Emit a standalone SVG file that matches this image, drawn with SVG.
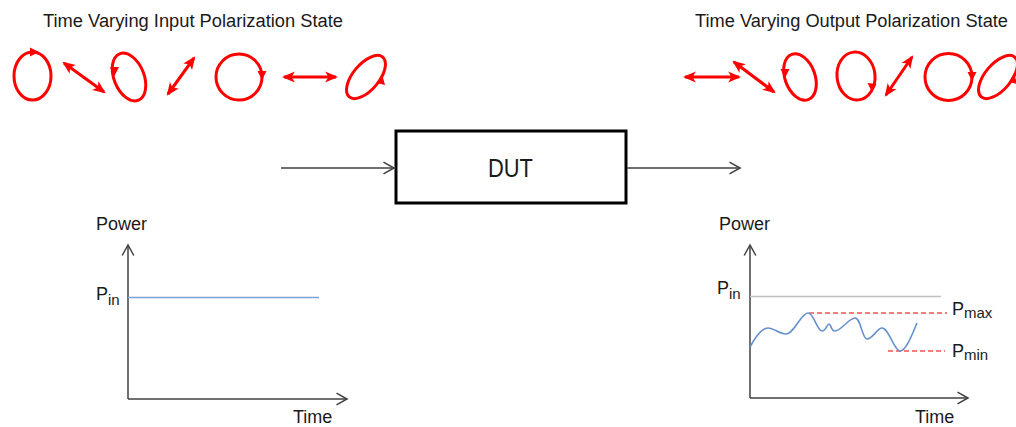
<svg xmlns="http://www.w3.org/2000/svg" width="1016" height="427" viewBox="0 0 1016 427">
  <style>
    .lbl { font-family: "Liberation Sans", Arial, sans-serif; fill: #1a1a1a; }
    .pol { fill: none; stroke: #ff0000; stroke-width: 3; }
    .lin { fill: none; stroke: #ff0000; stroke-width: 3; marker-start: url(#redTip); marker-end: url(#redTip); }
    .tip { fill: #ff0000; }
    .axis { fill: none; stroke: #404040; stroke-width: 1.5; marker-end: url(#openTip); }
    .flow { fill: none; stroke: #404040; stroke-width: 1.3; marker-end: url(#openTip); }
    .dash { fill: none; stroke: #ff5050; stroke-width: 1.6; stroke-dasharray: 5 3; }
  </style>
  <defs>
    <marker id="redTip" markerUnits="userSpaceOnUse" markerWidth="13" markerHeight="13" refX="10" refY="5" orient="auto-start-reverse" viewBox="0 0 12 10">
      <path d="M0,0 L12,5 L0,10 L3,5 Z" fill="#ff0000"/>
    </marker>
    <marker id="openTip" markerUnits="userSpaceOnUse" markerWidth="14" markerHeight="14" refX="10" refY="6" orient="auto" viewBox="0 0 12 12">
      <path d="M1,1 L10,6 L1,11" fill="none" stroke="#404040" stroke-width="1.3"/>
    </marker>
  </defs>

  <rect width="1016" height="427" fill="#ffffff"/>

  <!-- titles -->
  <text class="lbl" x="43" y="27" font-size="18" textLength="300" lengthAdjust="spacingAndGlyphs">Time Varying Input Polarization State</text>
  <text class="lbl" x="695" y="27" font-size="18" textLength="313" lengthAdjust="spacingAndGlyphs">Time Varying Output Polarization State</text>

  <!-- input polarization states -->
  <g id="input-states">
    <ellipse class="pol" cx="32.5" cy="76" rx="18.5" ry="24"/>
    <polygon class="tip" points="39,52 30,47.5 30,56.5"/>
    <line class="lin" x1="64" y1="63" x2="104" y2="92"/>
    <ellipse class="pol" cx="129" cy="77" rx="15" ry="25" transform="rotate(-22 129 77)"/>
    <polygon class="tip" points="114.5,76 110,67 119,67"/>
    <line class="lin" x1="168" y1="94" x2="194" y2="58"/>
    <circle class="pol" cx="239" cy="77" r="23"/>
    <polygon class="tip" points="262,80 257.5,71 266.5,71"/>
    <line class="lin" x1="284" y1="77" x2="336" y2="77"/>
    <ellipse class="pol" cx="366" cy="77" rx="13" ry="26" transform="rotate(40 366 77)"/>
    <polygon class="tip" points="382,74 377,83 385,85"/>
  </g>

  <!-- output polarization states -->
  <g id="output-states">
    <line class="lin" x1="685" y1="77" x2="739" y2="77"/>
    <line class="lin" x1="734" y1="62" x2="774" y2="92"/>
    <ellipse class="pol" cx="800" cy="77" rx="15" ry="24" transform="rotate(-20 800 77)"/>
    <polygon class="tip" points="785,78 780.5,69 789.5,69"/>
    <ellipse class="pol" cx="856" cy="76" rx="19" ry="24" transform="rotate(-6 856 76)"/>
    <polygon class="tip" points="872,92 867.5,83 876.5,84"/>
    <line class="lin" x1="886" y1="95" x2="912" y2="57"/>
    <circle class="pol" cx="948.5" cy="77" r="23.5"/>
    <polygon class="tip" points="972,81 967.5,72 976.5,72"/>
    <ellipse class="pol" cx="998" cy="77" rx="13" ry="26" transform="rotate(40 998 77)"/>
    <polygon class="tip" points="1014,73 1009,82 1017,84"/>
  </g>

  <!-- device under test -->
  <g id="dut">
    <rect x="396" y="131" width="230" height="72" fill="#ffffff" stroke="#000000" stroke-width="3"/>
    <text class="lbl" x="488" y="177" font-size="26" fill="#000" textLength="45" lengthAdjust="spacingAndGlyphs">DUT</text>
  </g>

  <!-- signal path -->
  <g id="connectors">
    <line class="flow" x1="281" y1="168" x2="394" y2="168"/>
    <line class="flow" x1="627" y1="168" x2="740" y2="168"/>
  </g>

  <!-- input power vs time -->
  <g id="input-plot">
    <line class="axis" x1="128" y1="399" x2="128" y2="245"/>
    <line class="axis" x1="128" y1="399" x2="347" y2="399"/>
    <line x1="128" y1="297.5" x2="319" y2="297.5" stroke="#7fa0d2" stroke-width="1.6"/>
    <text class="lbl" x="96" y="230" font-size="18">Power</text>
    <text class="lbl" x="96" y="300" font-size="18">P<tspan font-size="15" dy="5">in</tspan></text>
    <text class="lbl" x="293" y="423" font-size="18">Time</text>
  </g>

  <!-- output power vs time -->
  <g id="output-plot">
    <line class="axis" x1="750" y1="398" x2="750" y2="245"/>
    <line class="axis" x1="750" y1="398" x2="968" y2="398"/>
    <line x1="750" y1="296.5" x2="941" y2="296.5" stroke="#c0c0c0" stroke-width="1.4"/>
    <line class="dash" x1="809" y1="313" x2="947" y2="313"/>
    <line class="dash" x1="888" y1="351" x2="945" y2="351"/>
    <path d="M750,347 C756,336 762,328 768,328 C774,328 779,334 786,334 C794,334 801,313 808,313 C814,313 817,331 822,331 C826,331 827,324 829,324 C831,324 831,331 835,331 C841,331 849,318 855,318 C861,318 862,339 867,339 C873,339 877,328 882,328 C889,328 894,351 900,351 C906,351 912,335 917,323" fill="none" stroke="#6690cc" stroke-width="1.6"/>
    <text class="lbl" x="719" y="230" font-size="18">Power</text>
    <text class="lbl" x="717" y="294" font-size="18">P<tspan font-size="15" dy="5">in</tspan></text>
    <text class="lbl" x="952" y="315" font-size="18">P<tspan font-size="15" dy="3">max</tspan></text>
    <text class="lbl" x="952" y="357" font-size="18">P<tspan font-size="15" dy="3">min</tspan></text>
    <text class="lbl" x="915" y="423" font-size="18">Time</text>
  </g>
</svg>
